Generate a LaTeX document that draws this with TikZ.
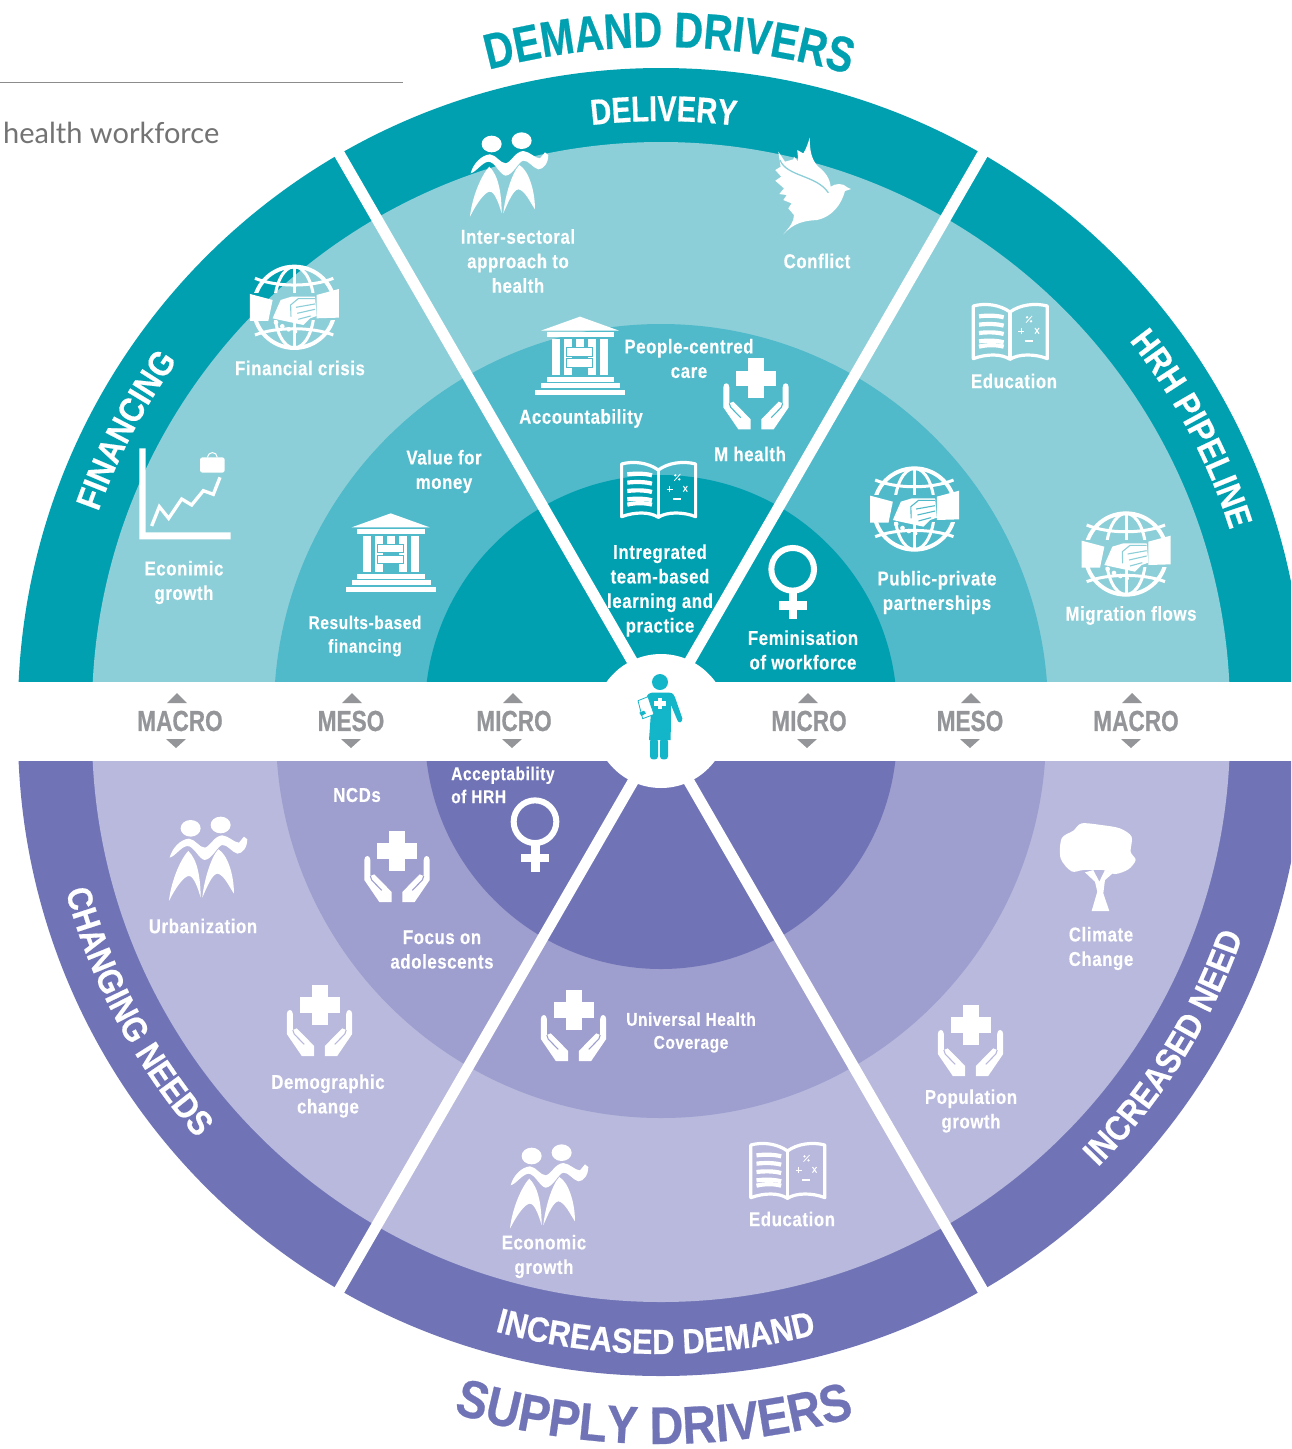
\documentclass[tikz,border=0pt]{standalone}
\usepackage{fontspec}
\usetikzlibrary{decorations.text}
\setmainfont{Liberation Sans}
\newfontfamily\nbV{Liberation Sans}[UprightFont={* Bold},FakeStretch=0.78,FakeBold=0.5]
\newfontfamily\nbA{Liberation Sans}[UprightFont={* Bold},FakeStretch=0.80,FakeBold=0.5]
\newfontfamily\nbB{Liberation Sans}[UprightFont={* Bold},FakeStretch=0.88,FakeBold=0.5]
\newfontfamily\nbL{Liberation Sans}[UprightFont={* Bold},FakeStretch=0.84,LetterSpace=3,FakeBold=0.3]
\newfontfamily\lightf{Lato}
\definecolor{tealO}{HTML}{00A0B1}
\definecolor{tealL}{HTML}{8DCFD8}
\definecolor{tealM}{HTML}{50BACA}
\definecolor{purO}{HTML}{7074B6}
\definecolor{purL}{HTML}{B8B9DC}
\definecolor{purM}{HTML}{9E9ECF}
\definecolor{grayT}{HTML}{939598}
\definecolor{docT}{HTML}{13B5C8}
\newcommand{\ringtext}[7]{% colour, font+size, centre, radius, start, end, text
  \path[postaction={decorate,decoration={text along path,text align=center,
    text={|#2\selectfont\color{#1}|#7}}}]
    ([shift={(#5:#4)}]#3) arc[start angle=#5,end angle=#6,radius=#4];}
\tikzset{
  x=1pt,y=1pt,
  lbl/.style={text=white,font=\nbL\fontsize{20}{24.5}\selectfont,align=center,inner sep=0pt},
  lblsmall/.style={text=white,font=\nbL\fontsize{18.5}{23}\selectfont,inner sep=0pt},
  lvl/.style={text=grayT,font=\nbV\fontsize{29}{29}\selectfont,inner sep=0pt},
  divider/.style={white,line width=11pt},
  iconz/.style={scale=1/3,yscale=-1},
  updown/.style={fill=grayT,draw=none},
  peopleicon/.pic={
    \begin{scope}[iconz,shift={(-205,-165)}]
      \fill[white] (155,72) ellipse[x radius=30,y radius=25];
      \fill[white] (245,62) ellipse[x radius=30,y radius=25];
      \fill[white] (92,160) .. controls (100,130) and (125,105) .. (150,103)
        .. controls (170,105) and (180,130) .. (198,130)
        .. controls (215,125) and (225,95) .. (250,93)
        .. controls (270,95) and (285,115) .. (300,115)
        -- (315,97) -- (325,105) .. controls (325,130) and (310,148) .. (295,148)
        .. controls (280,145) and (265,120) .. (250,122)
        .. controls (235,125) and (220,165) .. (197,167)
        .. controls (180,165) and (165,125) .. (145,125)
        .. controls (125,128) and (110,155) .. (92,160) -- cycle;
      \fill[white] (148,140) .. controls (120,170) and (95,240) .. (90,290)
        .. controls (110,250) and (135,215) .. (150,215)
        .. controls (165,215) and (178,255) .. (185,280)
        .. controls (185,220) and (175,165) .. (148,140) -- cycle;
      \fill[white] (238,135) .. controls (215,160) and (195,230) .. (190,280)
        .. controls (205,245) and (220,210) .. (235,208)
        .. controls (255,210) and (272,250) .. (285,268)
        .. controls (285,210) and (265,150) .. (238,135) -- cycle;
    \end{scope}},
  doveicon/.pic={
    \begin{scope}[iconz,shift={(-1120,-200)}]
      \fill[white] (1030,343) .. controls (1050,320) and (1062,305) .. (1062,285)
        -- (1045,265) -- (1055,250) -- (1030,240) -- (1040,225) -- (1018,222) -- (1032,205)
        -- (1006,182) -- (1024,170) -- (1006,150) -- (1022,140) -- (1015,95)
        -- (1035,125) -- (1060,118) -- (1062,110) -- (1075,125) -- (1072,90) -- (1090,100)
        .. controls (1100,85) and (1105,65) .. (1110,52)
        .. controls (1108,90) and (1115,120) .. (1135,140)
        .. controls (1155,155) and (1170,175) .. (1172,200)
        .. controls (1185,190) and (1210,188) .. (1222,202) -- (1233,207) -- (1215,213)
        .. controls (1205,250) and (1180,290) .. (1130,300)
        .. controls (1090,302) and (1060,310) .. (1030,343) -- cycle;
      \draw[tealL,line width=1.3pt] (1020,120) .. controls (1040,170) and (1130,165) .. (1165,218);
    \end{scope}},
  templeicon/.pic={
    \begin{scope}[iconz,shift={(-420,-700)}]
      \fill[white] (303,632) -- (420,590) -- (537,632) -- cycle;
      \fill[white] (320,637) rectangle (523,651);
      \fill[white] (336,657) rectangle (360,765);
      \fill[white] (480,657) rectangle (504,765);
      \fill[white] (372,657) rectangle (396,765);
      \fill[white] (444,657) rectangle (468,765);
      \fill[white] (408,657) rectangle (432,681);
      \fill[white,draw=tealM,line width=.9pt] (380,683) rectangle (458,708);
      \fill[white,draw=tealM,line width=.9pt] (380,716) rectangle (458,741);
      \fill[white] (320,771) rectangle (522,787);
      \fill[white] (303,790) rectangle (540,805);
      \fill[white] (285,810) rectangle (555,825);
    \end{scope}},
  bookicon/.pic={
    \begin{scope}[iconz,shift={(-415,-150)}]
      \draw[white,line width=3.2pt,line join=round]
        (415,90) .. controls (385,68) and (340,62) .. (305,72) -- (305,230)
        .. controls (345,215) and (390,215) .. (415,232)
        .. controls (440,215) and (490,215) .. (527,230) -- (527,72)
        .. controls (490,62) and (445,68) .. (415,90) -- cycle;
      \draw[white,line width=3.2pt] (415,90) -- (415,232);
      \foreach \yy in {103,128,153,178}
        \draw[white,line width=4.2pt] (322,\yy) .. controls (345,\yy-3) and (375,\yy-3) .. (396,\yy+3);
      \draw[white,line width=4.2pt] (322,194) .. controls (345,188) and (375,188) .. (396,194);
      \draw[white,line width=.9pt] (440,147) -- (458,147) (449,138) -- (449,156);
      \draw[white,line width=1pt] (490,138) -- (502,155) (502,138) -- (490,155);
      \draw[white,line width=1.6pt] (459,177) -- (483,177);
      \draw[white,line width=.8pt] (463,122) -- (481,102);
      \fill[white] (466,106) circle[radius=4] (478,118) circle[radius=4];
    \end{scope}},
  handicon/.pic={
    \begin{scope}[iconz,shift={(-138,-130)}]
      \fill[white] (78,62) rectangle (198,108);
      \fill[white] (114,25) rectangle (162,144);
      \foreach \sx/\dx in {1/0,-1/276} {
        \begin{scope}[xshift=\dx,xscale=\sx]
          \fill[white] (40,112) .. controls (40,96) and (58,96) .. (58,112) -- (58,160)
            -- (70,155) -- (122,208) -- (122,238) -- (85,238) -- (40,172) -- cycle;
          \draw[#1,line width=1.1pt] (58,160) -- (62,172) -- (92,203);
        \end{scope}}
    \end{scope}},
  globeicon/.pic={
    \begin{scope}[iconz,shift={(-523,-172)}]
      \foreach \ya/\yb in {40/128,212/305} {
        \begin{scope}
          \clip (380,\ya) rectangle (670,\yb);
          \draw[white,line width=4pt] (523,172) circle[radius=122];
          \draw[white,line width=3pt] (523,172) ellipse[x radius=60,y radius=122];
          \draw[white,line width=3pt] (523,50) -- (523,295);
          \draw[white,line width=3pt] (405,85) .. controls (470,112) and (575,112) .. (640,85);
          \draw[white,line width=3pt] (405,255) .. controls (470,230) and (575,230) .. (640,255);
        \end{scope}}
      \fill[white] (390,132) -- (458,150) -- (445,213) -- (390,213) -- cycle;
      \fill[white] (590,135) -- (657,117) -- (657,203) -- (590,205) -- cycle;
      \fill[white] (458,205) -- (482,150) -- (515,140) -- (585,140) -- (590,198) -- (570,205)
        -- (550,225) -- (480,210) -- cycle;
      \draw[#1,line width=1.1pt] (513,200) -- (512,165) -- (535,146) -- (585,146);
      \draw[#1,line width=1.1pt] (528,172) -- (585,162) (532,190) -- (585,178) (535,208) -- (572,198);
      \fill[white] (468,217) circle[radius=7] (487,229) circle[radius=7]
        (506,238) circle[radius=7] (526,245) circle[radius=6];
    \end{scope}},
  venusicon/.pic={
    \begin{scope}[iconz,shift={(-818,-430)}]
      \draw[white,line width=6pt] (818,388) circle[radius=64];
      \fill[white] (806,455) rectangle (832,538);
      \fill[white] (777,484) rectangle (860,510);
    \end{scope}},
  charticon/.pic={
    \begin{scope}[iconz,shift={(-195,-735)}]
      \fill[white] (58,595) -- (58,868) -- (332,868) -- (332,847) -- (77,847) -- (77,595) -- cycle;
      \draw[white,line width=3.3pt] (95,828) -- (118,770) -- (146,805) -- (185,747) -- (215,765) -- (250,722) -- (280,733) -- (300,682);
      \fill[white,rounded corners=2.5pt] (240,622) rectangle (314,668);
      \draw[white,line width=1pt] (262,622) .. controls (265,603) and (290,603) .. (292,622);
    \end{scope}},
  treeicon/.pic={
    \begin{scope}[iconz,shift={(-175,-170)}]
      \fill[white] plot[smooth cycle] coordinates {(65,85) (100,62) (125,40) (185,45) (240,55) (275,80) (272,125) (287,150) (265,178) (225,192) (190,180) (130,180) (95,184) (62,145)};
      \fill[white] (135,187) -- (165,215) -- (172,245) -- (155,303) -- (208,303) -- (190,250) -- (195,210) -- (218,190) -- (195,180) -- (178,215) -- (160,180) -- cycle;
    \end{scope}},
  doctoricon/.pic={
    \begin{scope}[iconz,shift={(-90,-140)}]
      \fill[docT] (90,36) circle[radius=24];
      \fill[docT] (50,82) .. controls (52,72) and (60,68) .. (65,68) -- (118,68)
        .. controls (128,68) and (133,75) .. (135,82) -- (157,145)
        .. controls (157,160) and (145,160) .. (142,150) -- (123,105) -- (122,210) -- (57,210) -- (62,140) -- cycle;
      \fill[docT,rounded corners=3pt] (60,205) rectangle (84,268);
      \fill[docT,rounded corners=3pt] (90,205) rectangle (114,268);
      \fill[white,draw=docT,line width=.8pt,line join=round] (24,92) -- (54,80) -- (72,133) -- (38,146) -- cycle;
      \fill[docT] (28,128) -- (42,122) -- (48,130) -- (34,138) -- cycle;
      \fill[white] (72,93) rectangle (108,107);
      \fill[white] (83,83) rectangle (97,117);
    \end{scope}}
}
\begin{document}
\begin{tikzpicture}
\useasboundingbox (0,0) rectangle (1291,-1449);
\clip (0,0) rectangle (1291,-1449);
\fill[white] (0,0) rectangle (1291,-1449);
\coordinate (T) at (661,-711);
\coordinate (B) at (661,-733);
\coordinate (C) at (661,-721);
% upper half
\begin{scope}
  \clip (0,0) rectangle (1291,-681);
  \fill[tealO] (T) circle[radius=643];
  \fill[tealL] (T) circle[radius=569];
  \fill[tealM] (T) circle[radius=387];
  \fill[tealO] (T) circle[radius=236];
  \coordinate (TL) at ([shift={(120:720)}]T);
  \coordinate (TR) at ([shift={(60:720)}]T);
  \draw[divider] (T) -- (TL);
  \draw[divider] (T) -- (TR);
\end{scope}
% lower half
\begin{scope}
  \clip (0,-761) rectangle (1291,-1449);
  \fill[purO] (B) circle[radius=643];
  \fill[purL] (B) circle[radius=569];
  \fill[purM] (B) circle[radius=385];
  \fill[purO] (B) circle[radius=236];
  \coordinate (BL) at ([shift={(240:720)}]B);
  \coordinate (BR) at ([shift={(300:720)}]B);
  \draw[divider] (B) -- (BL);
  \draw[divider] (B) -- (BR);
\end{scope}
\fill[white] (C) circle[radius=67];
% header fragment
\coordinate (ruleA) at (0,-82);
\coordinate (ruleB) at (403,-82);
\draw[color=gray!90,line width=.9pt] (ruleA) -- (ruleB);
\node[anchor=base west,inner sep=0pt,text=black!55,font=\lightf\fontsize{29}{29}\selectfont] (hw) at (3,-143) {health workforce};
% ring titles
\ringtext{tealO}{\nbA\fontsize{50}{50}}{T}{664}{89.3+30}{89.3-30}{DEMAND DRIVERS}
\ringtext{white}{\nbA\fontsize{36}{36}}{T}{590}{89.75+30}{89.75-30}{DELIVERY}
\ringtext{white}{\nbB\fontsize{35}{35}}{T}{597}{152.3+30}{152.3-30}{FINANCING}
\ringtext{white}{\nbB\fontsize{35}{35}}{T}{597}{28+30}{28-30}{HRH PIPELINE}
\ringtext{white}{\nbB\fontsize{35}{35}}{B}{616}{208-30}{208+30}{CHANGING NEEDS}
\ringtext{white}{\nbB\fontsize{35}{35}}{B}{621}{269.5-30}{269.5+30}{INCREASED DEMAND}
\ringtext{white}{\nbB\fontsize{35}{35}}{B}{616}{328-30}{328+30}{INCREASED NEED}
\ringtext{purO}{\nbB\fontsize{53}{53}}{B}{711}{269.4-30}{269.4+30}{SUPPLY DRIVERS}
% level labels
\foreach \nm/\tx/\lx/\ux/\dx in {a/MACRO/180/177/176,b/MESO/351/352/351,c/MICRO/514/513/512,d/MICRO/809/808/807,e/MESO/970/971/970,f/MACRO/1136/1132/1131} {
  \node[lvl] (lvl\nm) at (\lx,-721) {\tx};
  \fill[updown] (\ux-10,-703) -- (\ux,-693) -- (\ux+10,-703) -- cycle;
  \fill[updown] (\dx-10,-739) -- (\dx,-748) -- (\dx+10,-739) -- cycle;
}
% icons
\pic at (508.3,-175) {peopleicon};
\pic at (207.3,-859.3) {peopleicon};
\pic at (548.3,-1187) {peopleicon};
\pic at (813.3,-186.7) {doveicon};
\pic at (580,-353.3) {templeicon};
\pic at (390.7,-550) {templeicon};
\pic at (658.3,-490) {bookicon};
\pic at (1010,-332) {bookicon};
\pic at (787.5,-1171) {bookicon};
\pic at (756,-393.3) {handicon=tealM};
\pic at (397,-866) {handicon=purM};
\pic at (573.5,-1025) {handicon=purM};
\pic at (970.5,-1040) {handicon=purL};
\pic at (319.5,-1020) {handicon=purL};
\pic at (294.3,-307.3) {globeicon=tealL};
\pic at (914.5,-509) {globeicon=tealM};
\pic at (1126,-554) {globeicon=tealL};
\pic at (792.7,-583.3) {venusicon};
\pic at (535,-835.7) {venusicon};
\pic at (185,-495) {charticon};
\pic at (1098.3,-866.7) {treeicon};
\pic at (660,-716.7) {doctoricon};
% labels
\node[lbl] (l1) at (518,-261) {Inter-sectoral\\approach to\\health};
\node[lbl] (l2) at (817,-261) {Conflict};
\node[lbl] (l3) at (689,-358.5) {People-centred\\care};
\node[lbl] (l4) at (581,-418.5) {Accountability};
\node[lbl] (l5) at (750,-454) {M health};
\node[lbl] (l6) at (660,-590.5) {Intregrated\\team-based\\learning and\\practice};
\node[lbl] (l7) at (803,-650) {Feminisation\\of workforce};
\node[lbl] (l8) at (937,-592.5) {Public-private\\partnerships};
\node[lbl] (l9) at (1014,-381) {Education};
\node[lbl] (l10) at (1131,-615.5) {Migration flows};
\node[lbl] (l11) at (300,-368) {Financial crisis};
\node[lbl] (l12) at (184,-582.5) {Econimic\\growth};
\node[lbl] (l13) at (444,-471.5) {Value for\\money};
\node[lbl,font=\nbL\fontsize{18.5}{23.5}\selectfont] (l14) at (365,-636) {Results-based\\financing};
\node[lblsmall,align=left,anchor=west] (l15) at (451,-785) {Acceptability\\of HRH};
\node[lbl] (l16) at (357,-795) {NCDs};
\node[lbl] (l17) at (203,-926) {Urbanization};
\node[lbl] (l18) at (442,-949.5) {Focus on\\adolescents};
\node[lbl] (l19) at (328,-1096) {Demographic\\change};
\node[lblsmall,align=center] (l20) at (691,-1032.5) {Universal Health\\Coverage};
\node[lbl] (l21) at (544,-1256.5) {Economic\\growth};
\node[lbl] (l22) at (792,-1219) {Education};
\node[lbl] (l23) at (1101,-948.5) {Climate\\Change};
\node[lbl] (l24) at (971,-1111) {Population\\growth};
\end{tikzpicture}
\end{document}
